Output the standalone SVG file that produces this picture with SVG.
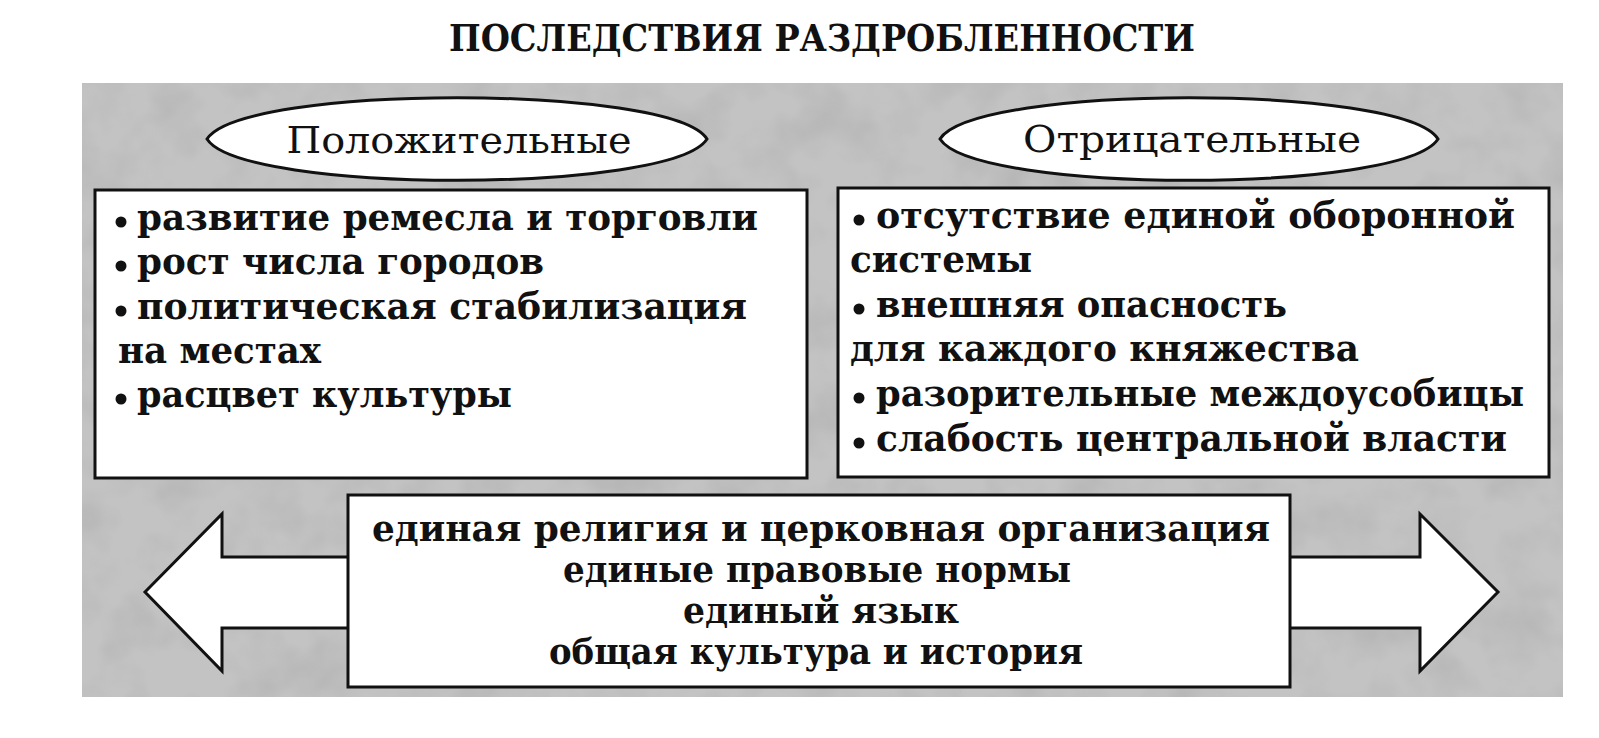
<svg xmlns="http://www.w3.org/2000/svg" width="1599" height="738" viewBox="0 0 1599 738">
<style>
  .t { font-family: "DejaVu Serif Condensed", "DejaVu Serif", "Liberation Serif", serif; fill: #111; }
  .b { font-weight: bold; font-size: 38px; }
  .c { font-weight: bold; font-size: 35px; }
  .lbl { font-weight: normal; font-size: 37px; }
  .title { font-weight: bold; font-size: 38px; }
  .box { fill: #fff; stroke: #111; stroke-width: 3; }
  .oval { fill: #fff; stroke: #111; stroke-width: 3; }
  .arr { fill: #fff; stroke: #111; stroke-width: 3; stroke-linejoin: miter; }
</style>
<defs>
  <filter id="mottle" x="0" y="0" width="100%" height="100%">
    <feTurbulence type="fractalNoise" baseFrequency="0.02" numOctaves="3" seed="7" result="n"/>
    <feColorMatrix in="n" type="matrix" values="0 0 0 0 0.45  0 0 0 0 0.45  0 0 0 0 0.45  -1.6 0 0 0 0.95"/>
    <feComposite operator="in" in2="SourceGraphic"/>
  </filter>
</defs>
<rect width="1599" height="738" fill="#ffffff"/>

<g id="title">
  <text class="t title" x="822" y="51" text-anchor="middle" textLength="746" lengthAdjust="spacingAndGlyphs">ПОСЛЕДСТВИЯ РАЗДРОБЛЕННОСТИ</text>
</g>

<g id="background">
  <rect x="82" y="83" width="1481" height="614" fill="#c3c3c3"/>
  <rect x="82" y="83" width="1481" height="614" fill="#000" filter="url(#mottle)"/>
</g>

<g id="connectors">
  <polygon class="arr" points="145,592 222,514 222,557 1420,557 1420,514 1498,592 1420,671 1420,628 222,628 222,671"/>
</g>

<g id="positive-label">
  <path class="oval" d="M207,139 C242,84 672,84 707,139 C672,194 242,194 207,139 Z"/>
  <text class="t lbl" x="459" y="153" text-anchor="middle" textLength="345" lengthAdjust="spacingAndGlyphs">Положительные</text>
</g>

<g id="negative-label">
  <path class="oval" d="M940,139 C975,84 1403,84 1438,139 C1403,194 975,194 940,139 Z"/>
  <text class="t lbl" x="1192" y="152" text-anchor="middle" textLength="338" lengthAdjust="spacingAndGlyphs">Отрицательные</text>
</g>

<g id="positive-box">
  <rect class="box" x="95" y="190" width="712" height="288"/>
  <g fill="#111">
    <circle cx="121" cy="222" r="5.5"/>
    <circle cx="121" cy="266" r="5.5"/>
    <circle cx="121" cy="311" r="5.5"/>
    <circle cx="121" cy="399" r="5.5"/>
  </g>
  <text class="t b" x="137" y="230" textLength="621" lengthAdjust="spacingAndGlyphs">развитие ремесла и торговли</text>
  <text class="t b" x="137" y="274" textLength="407" lengthAdjust="spacingAndGlyphs">рост числа городов</text>
  <text class="t b" x="137" y="319" textLength="610" lengthAdjust="spacingAndGlyphs">политическая стабилизация</text>
  <text class="t b" x="118" y="363" textLength="203" lengthAdjust="spacingAndGlyphs">на местах</text>
  <text class="t b" x="137" y="407" textLength="375" lengthAdjust="spacingAndGlyphs">расцвет культуры</text>
</g>

<g id="negative-box">
  <rect class="box" x="838" y="188" width="711" height="289"/>
  <g fill="#111">
    <circle cx="859" cy="220" r="5.5"/>
    <circle cx="859" cy="309" r="5.5"/>
    <circle cx="859" cy="398" r="5.5"/>
    <circle cx="859" cy="443" r="5.5"/>
  </g>
  <text class="t b" x="876" y="228" textLength="639" lengthAdjust="spacingAndGlyphs">отсутствие единой оборонной</text>
  <text class="t b" x="850" y="272" textLength="182" lengthAdjust="spacingAndGlyphs">системы</text>
  <text class="t b" x="876" y="317" textLength="411" lengthAdjust="spacingAndGlyphs">внешняя опасность</text>
  <text class="t b" x="850" y="361" textLength="509" lengthAdjust="spacingAndGlyphs">для каждого княжества</text>
  <text class="t b" x="876" y="406" textLength="648" lengthAdjust="spacingAndGlyphs">разорительные междоусобицы</text>
  <text class="t b" x="876" y="451" textLength="631" lengthAdjust="spacingAndGlyphs">слабость центральной власти</text>
</g>

<g id="common-box">
  <rect class="box" x="348" y="495" width="942" height="192"/>
  <text class="t c" x="821" y="541" text-anchor="middle" textLength="898" lengthAdjust="spacingAndGlyphs">единая религия и церковная организация</text>
  <text class="t c" x="817" y="582" text-anchor="middle" textLength="508" lengthAdjust="spacingAndGlyphs">единые правовые нормы</text>
  <text class="t c" x="821" y="623" text-anchor="middle" textLength="276" lengthAdjust="spacingAndGlyphs">единый язык</text>
  <text class="t c" x="816" y="664" text-anchor="middle" textLength="534" lengthAdjust="spacingAndGlyphs">общая культура и история</text>
</g>
</svg>
